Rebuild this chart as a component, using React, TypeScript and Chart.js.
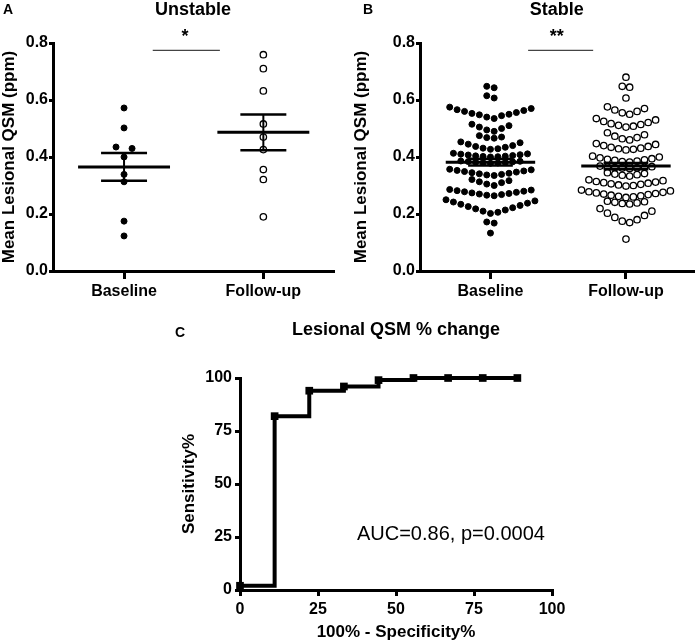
import React, { useEffect, useRef } from 'react';
import { Chart, registerables } from 'chart.js';

Chart.register(...registerables);

const FONT = '"Liberation Sans", Arial, sans-serif';

// ---------- Data ----------
const groups = ['Baseline', 'Follow-up'];
const qsmTicks = [0, 0.2, 0.4, 0.6, 0.8];

const unstableBaseline = [0.572, 0.502, 0.43, 0.435, 0.4, 0.339, 0.313, 0.175, 0.123];
const unstableFollowup = [0.759, 0.71, 0.632, 0.516, 0.47, 0.426, 0.356, 0.321, 0.19];
const unstableMean = [0.365, 0.487];
const unstableSemLow = [0.317, 0.424];
const unstableSemHigh = [0.414, 0.549];

const stableBaseline = [
  0.643, 0.648,
  0.607, 0.615,
  0.535, 0.54, 0.545, 0.548, 0.55, 0.553, 0.556, 0.56, 0.563, 0.566, 0.57, 0.575,
  0.49, 0.495, 0.5, 0.505, 0.51, 0.515,
  0.466, 0.468, 0.47, 0.475,
  0.427, 0.429, 0.431, 0.434, 0.437, 0.44, 0.445, 0.45, 0.453,
  0.4, 0.401, 0.402, 0.403, 0.404, 0.405, 0.407, 0.408, 0.41, 0.411, 0.413,
  0.378, 0.379, 0.38, 0.381, 0.382, 0.383, 0.384, 0.385, 0.386,
  0.335, 0.337, 0.339, 0.341, 0.343, 0.345, 0.347, 0.349, 0.351, 0.353, 0.355, 0.357,
  0.3, 0.305, 0.31, 0.313, 0.317, 0.321,
  0.264, 0.266, 0.268, 0.27, 0.272, 0.274, 0.276, 0.278, 0.28, 0.282, 0.284, 0.286,
  0.202, 0.206, 0.21, 0.214, 0.218, 0.222, 0.226, 0.23, 0.234, 0.238, 0.242, 0.246, 0.25,
  0.168, 0.172,
  0.133,
];
const stableFollowup = [
  0.68,
  0.645, 0.648,
  0.607,
  0.55, 0.555, 0.56, 0.565, 0.57, 0.576,
  0.505, 0.508, 0.511, 0.514, 0.517, 0.521, 0.525, 0.53, 0.535,
  0.46, 0.464, 0.468, 0.473, 0.478, 0.485,
  0.425, 0.427, 0.429, 0.431, 0.434, 0.437, 0.44, 0.444, 0.447,
  0.382, 0.384, 0.386, 0.388, 0.39, 0.392, 0.394, 0.397, 0.4, 0.403,
  0.36, 0.361, 0.362, 0.363, 0.364, 0.365, 0.366, 0.368,
  0.333, 0.336, 0.338, 0.34, 0.342, 0.345,
  0.298, 0.3, 0.302, 0.304, 0.306, 0.308, 0.31, 0.312, 0.314, 0.317, 0.32,
  0.258, 0.26, 0.262, 0.264, 0.266, 0.268, 0.27, 0.272, 0.274, 0.276, 0.278, 0.281, 0.284,
  0.235, 0.237, 0.239, 0.241, 0.243, 0.245,
  0.17, 0.175, 0.18, 0.188, 0.195, 0.203, 0.21, 0.219,
  0.112,
];
const stableMean = [0.382, 0.368];
const stableSemLow = [0.37, 0.357];
const stableSemHigh = [0.394, 0.379];

const rocFpr = [0, 11.1, 22.2, 33.3, 44.4, 55.6, 66.7, 77.8, 88.9];
const rocSens = [2, 82, 94, 96, 99, 100, 100, 100, 100];
const rocTicks = [0, 25, 50, 75, 100];

// ---------- Helpers ----------
// Prism-style scatter layout: values closer than `gap` share a row; within a row
// points are spread outward from the centre (lowest value in the middle).
function rowLayout(values: number[], center: number, gap: number, spacingPx: number, pxPerX: number) {
  const order = values.map((_, i) => i).sort((a, b) => values[a] - values[b]);
  const rows: number[][] = [];
  let prev = -Infinity;
  for (const i of order) {
    if (!rows.length || values[i] - prev > gap) rows.push([]);
    rows[rows.length - 1].push(i);
    prev = values[i];
  }
  const out: { x: number; y: number }[] = new Array(values.length);
  for (const row of rows) {
    const n = row.length;
    row.forEach((i, k) => {
      let slot: number;
      if (n % 2 === 1) slot = k === 0 ? 0 : k % 2 === 1 ? (k + 1) / 2 : -k / 2;
      else slot = (k % 2 === 0 ? 1 : -1) * (Math.floor(k / 2) + 0.5);
      out[i] = { x: center + (slot * spacingPx) / pxPerX, y: values[i] };
    });
  }
  return out;
}

const textPlugin = {
  id: 'panelText',
  afterDraw(chart: any, _args: any, opts: any) {
    const ctx = chart.ctx as CanvasRenderingContext2D;
    const area = chart.chartArea;
    ctx.save();
    ctx.fillStyle = '#000';
    ctx.textBaseline = 'middle';
    if (opts.letter) {
      ctx.font = `bold 14px ${FONT}`;
      ctx.textAlign = 'left';
      ctx.fillText(opts.letter, opts.letterX, opts.letterY);
    }
    if (opts.title) {
      ctx.font = `bold 18px ${FONT}`;
      ctx.textAlign = 'center';
      ctx.fillText(opts.title, (area.left + area.right) / 2, opts.titleY);
    }
    for (const n of opts.notes || []) {
      ctx.font = n.font;
      ctx.textAlign = 'center';
      ctx.fillText(n.text, chart.scales.x.getPixelForValue(n.x), chart.scales.y.getPixelForValue(n.y));
    }
    ctx.restore();
  },
};

function seg(x0: number, x1: number, y0: number, y1: number, width: number, color = '#000') {
  return {
    data: [
      { x: x0, y: y0 },
      { x: x1, y: y1 },
    ],
    showLine: true,
    borderColor: color,
    borderWidth: width,
    pointRadius: 0,
    borderCapStyle: 'butt',
    order: 0,
  };
}

interface DotOpts {
  base: number[];
  follow: number[];
  mean: number[];
  semLow: number[];
  semHigh: number[];
  title: string;
  letter: string;
  letterX: number;
  stars: string;
  starX: number;
  barX0: number;
  barX1: number;
  xMin: number;
  yWidth: number;
  rightPad: number;
  titlePad: number;
  spacing: number;
}

function dotConfig(o: DotOpts): any {
  const pxPerX = 139;
  const datasets: any[] = [
    {
      data: rowLayout(o.base, 0, 0.0115, o.spacing, pxPerX),
      pointRadius: 3,
      pointBackgroundColor: '#000',
      pointBorderColor: '#000',
      pointBorderWidth: 1,
      order: 2,
    },
    {
      data: rowLayout(o.follow, 1, 0.0115, o.spacing, pxPerX),
      pointRadius: 3.2,
      pointBackgroundColor: '#fff',
      pointBorderColor: '#000',
      pointBorderWidth: 1.3,
      order: 1,
    },
  ];
  for (let i = 0; i < 2; i++) {
    datasets.push(seg(i - 0.33, i + 0.33, o.mean[i], o.mean[i], 3));
    datasets.push(seg(i - 0.165, i + 0.165, o.semLow[i], o.semLow[i], 2.5));
    datasets.push(seg(i - 0.165, i + 0.165, o.semHigh[i], o.semHigh[i], 2.5));
    datasets.push(seg(i, i, o.semLow[i], o.semHigh[i], 2));
  }
  datasets.push(seg(o.barX0, o.barX1, 0.774, 0.774, 1.2, '#444'));

  return {
    type: 'scatter',
    data: { datasets },
    options: {
      responsive: false,
      animation: false,
      devicePixelRatio: 1,
      layout: { padding: { top: 43, right: o.rightPad, left: 0, bottom: 0 } },
      plugins: {
        legend: { display: false },
        tooltip: { enabled: false },
        panelText: {
          letter: o.letter,
          letterX: o.letterX,
          letterY: 10,
          title: o.title,
          titleY: 10,
          notes: [{ text: o.stars, x: o.starX, y: 0.822, font: `bold 18px ${FONT}` }],
        },
      },
      scales: {
        x: {
          type: 'linear',
          min: o.xMin,
          max: 1.5,
          afterBuildTicks: (s: any) => {
            s.ticks = [{ value: 0 }, { value: 1 }];
          },
          afterFit: (s: any) => {
            s.height = 39;
          },
          ticks: {
            callback: (_v: any, i: number) => groups[i],
            color: '#000',
            font: { family: FONT, size: 16, weight: 'bold' },
            padding: 3,
            maxRotation: 0,
          },
          grid: { drawOnChartArea: false, drawTicks: true, tickLength: 8, lineWidth: 3, color: '#000' },
          border: { display: true, width: 3, color: '#000' },
        },
        y: {
          type: 'linear',
          min: 0,
          max: 0.8,
          afterBuildTicks: (s: any) => {
            s.ticks = qsmTicks.map((v) => ({ value: v }));
          },
          afterFit: (s: any) => {
            s.width = o.yWidth;
          },
          ticks: {
            callback: (v: any) => Number(v).toFixed(1),
            color: '#000',
            font: { family: FONT, size: 16, weight: 'bold' },
            padding: 1,
          },
          grid: { drawOnChartArea: false, drawTicks: true, tickLength: 4, lineWidth: 3, color: '#000' },
          border: { display: true, width: 3, color: '#000' },
          title: {
            display: true,
            text: 'Mean Lesional QSM (ppm)',
            color: '#000',
            font: { family: FONT, size: 17, weight: 'bold', lineHeight: 1.05 },
            padding: { top: o.titlePad, bottom: 0 },
          },
        },
      },
    },
    plugins: [textPlugin],
  };
}

function rocConfig(): any {
  return {
    type: 'scatter',
    data: {
      datasets: [
        {
          data: rocFpr.map((x, i) => ({ x, y: rocSens[i] })),
          showLine: true,
          stepped: 'before',
          borderColor: '#000',
          borderWidth: 4,
          pointStyle: 'rect',
          pointRadius: 2.6,
          pointBackgroundColor: '#000',
          pointBorderColor: '#000',
          clip: false,
        },
      ],
    },
    options: {
      responsive: false,
      animation: false,
      devicePixelRatio: 1,
      layout: { padding: { top: 60, right: 28, left: 0, bottom: 0 } },
      plugins: {
        legend: { display: false },
        tooltip: { enabled: false },
        panelText: {
          letter: 'C',
          letterX: 5,
          letterY: 15,
          title: 'Lesional QSM % change',
          titleY: 12,
          notes: [{ text: 'AUC=0.86, p=0.0004', x: 67.6, y: 26, font: `20px ${FONT}` }],
        },
      },
      scales: {
        x: {
          type: 'linear',
          min: 0,
          max: 100,
          afterBuildTicks: (s: any) => {
            s.ticks = rocTicks.map((v) => ({ value: v }));
          },
          afterFit: (s: any) => {
            s.height = 51;
          },
          ticks: { color: '#000', font: { family: FONT, size: 16, weight: 'bold' }, padding: 4, maxRotation: 0 },
          grid: { drawOnChartArea: false, drawTicks: true, tickLength: 6, lineWidth: 3, color: '#000' },
          border: { display: true, width: 3, color: '#000' },
          title: {
            display: true,
            text: '100% - Specificity%',
            color: '#000',
            font: { family: FONT, size: 17, weight: 'bold', lineHeight: 1.05 },
            padding: { top: 0, bottom: 0 },
          },
        },
        y: {
          type: 'linear',
          min: 0,
          max: 100,
          afterBuildTicks: (s: any) => {
            s.ticks = rocTicks.map((v) => ({ value: v }));
          },
          afterFit: (s: any) => {
            s.width = 70;
          },
          ticks: { color: '#000', font: { family: FONT, size: 16, weight: 'bold' }, padding: 3 },
          grid: { drawOnChartArea: false, drawTicks: true, tickLength: 5, lineWidth: 3, color: '#000' },
          border: { display: true, width: 3, color: '#000' },
          title: {
            display: true,
            text: 'Sensitivity%',
            color: '#000',
            font: { family: FONT, size: 17, weight: 'bold', lineHeight: 1.05 },
            padding: { top: 10, bottom: 0 },
          },
        },
      },
    },
    plugins: [textPlugin],
  };
}

export default function App() {
  const aRef = useRef<HTMLCanvasElement>(null);
  const bRef = useRef<HTMLCanvasElement>(null);
  const cRef = useRef<HTMLCanvasElement>(null);

  useEffect(() => {
    Chart.defaults.font.family = FONT;
    const charts = [
      new Chart(
        aRef.current!,
        dotConfig({
          base: unstableBaseline,
          follow: unstableFollowup,
          mean: unstableMean,
          semLow: unstableSemLow,
          semHigh: unstableSemHigh,
          title: 'Unstable',
          letter: 'A',
          letterX: 3,
          stars: '*',
          starX: 0.437,
          barX0: 0.206,
          barX1: 0.688,
          xMin: -0.51,
          yWidth: 53,
          rightPad: 17,
          titlePad: 0,
          spacing: 16,
        })
      ),
      new Chart(
        bRef.current!,
        dotConfig({
          base: stableBaseline,
          follow: stableFollowup,
          mean: stableMean,
          semLow: stableSemLow,
          semHigh: stableSemHigh,
          title: 'Stable',
          letter: 'B',
          letterX: 13,
          stars: '**',
          starX: 0.489,
          barX0: 0.278,
          barX1: 0.758,
          xMin: -0.52,
          yWidth: 70,
          rightPad: 1,
          titlePad: 2,
          spacing: 7.6,
        })
      ),
      new Chart(cRef.current!, rocConfig()),
    ];
    return () => charts.forEach((c) => c.destroy());
  }, []);

  return (
    <div style={{ position: 'absolute', left: 0, top: 0, width: 699, height: 641, background: '#fff' }}>
      <canvas ref={aRef} width={350} height={310} style={{ position: 'absolute', left: 0, top: 0 }} />
      <canvas ref={bRef} width={349} height={310} style={{ position: 'absolute', left: 350, top: 0 }} />
      <canvas ref={cRef} width={410} height={323} style={{ position: 'absolute', left: 170, top: 318 }} />
    </div>
  );
}
